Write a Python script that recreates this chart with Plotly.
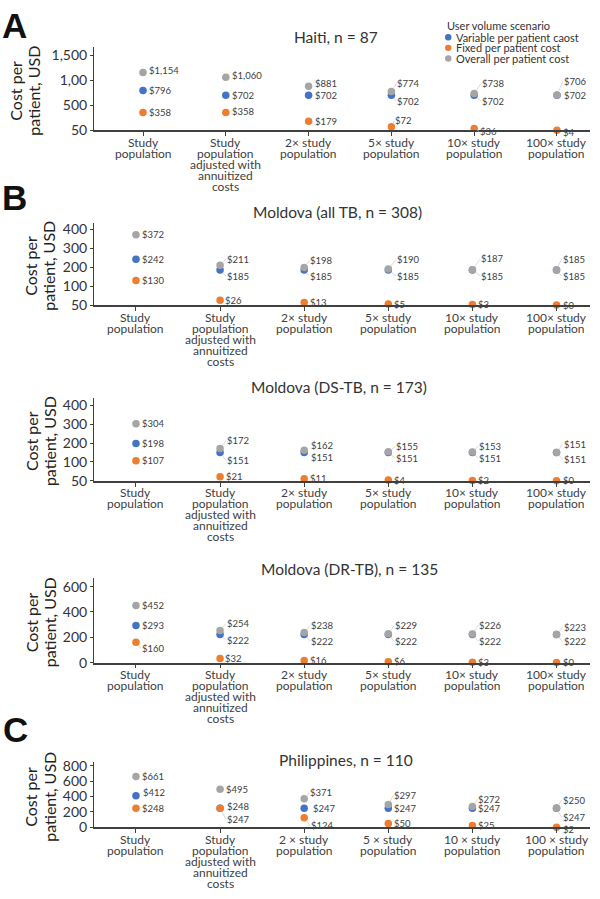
import plotly.graph_objects as go

W, H = 600, 899

# ---------------- data ----------------
series_names = ["Variable per patient caost", "Fixed per patient cost", "Overall per patient cost"]
legend_title = "User volume scenario"

categories_std = ["Study\npopulation", "Study\npopulation\nadjusted with\nannuitized\ncosts",
                  "2× study\npopulation", "5× study\npopulation", "10× study\npopulation", "100× study\npopulation"]
categories_ph = ["Study\npopulation", "Study\npopulation\nadjusted with\nannuitized\ncosts",
                 "2 × study\npopulation", "5 × study\npopulation", "10 × study\npopulation", "100 × study\npopulation"]

haiti_variable = [796, 702, 702, 702, 702, 702]
haiti_fixed = [358, 358, 179, 72, 36, 4]
haiti_overall = [1154, 1060, 881, 774, 738, 706]
haiti_ytick_vals = [0, 500, 1000, 1500]
haiti_ytick_text = ["50", "500", "1,00", "1,500"]

mold_all_variable = [242, 185, 185, 185, 185, 185]
mold_all_fixed = [130, 26, 13, 5, 3, 0]
mold_all_overall = [372, 211, 198, 190, 187, 185]

mold_ds_variable = [198, 151, 151, 151, 151, 151]
mold_ds_fixed = [107, 21, 11, 4, 2, 0]
mold_ds_overall = [304, 172, 162, 155, 153, 151]
mold_ytick_vals = [0, 100, 200, 300, 400]
mold_ytick_text = ["50", "100", "200", "300", "400"]

mold_dr_variable = [293, 222, 222, 222, 222, 222]
mold_dr_fixed = [160, 32, 16, 6, 3, 0]
mold_dr_overall = [452, 254, 238, 229, 226, 223]
mold_dr_ytick_vals = [0, 200, 400, 600]
mold_dr_ytick_text = ["0", "200", "400", "600"]

phil_variable = [412, 247, 247, 247, 247, 247]
phil_fixed = [248, 248, 124, 50, 25, 2]
phil_overall = [661, 495, 371, 297, 272, 250]
phil_ytick_vals = [0, 200, 400, 600, 800]
phil_ytick_text = ["0", "200", "400", "600", "800"]

titles = ["Haiti, n = 87", "Moldova (all TB, n = 308)", "Moldova (DS-TB, n = 173)",
          "Moldova (DR-TB), n = 135", "Philippines, n = 110"]
panel_letters = ["A", "B", "C"]
ytitle_lines = ["Cost per", "patient, USD"]

# ---------------- styling / layout config ----------------
colors = ["#4472C4", "#ED7D31", "#A5A5A5"]
FONT = "Lato"
TXT = "#404040"

# label offsets (dx px right, dy px down, leader line?) per series: variable, fixed, overall
off_haiti = [
    [(5, 0, 0), (5, 0, 0), (5, 0, 0), (5, 6, 1), (7, 6, 1), (6, 0, 0)],
    [(5, 0, 0), (5, -1, 0), (5, 0, 0), (3, -6, 1), (5, 3, 1), (5, 2, 0)],
    [(5, -2, 0), (5, -2, 0), (5, -3, 0), (5, -8, 1), (7, -10, 1), (6, -14, 1)],
]
off_all = [
    [(5, 0, 0), (6, 6, 1), (5, 6, 1), (8, 6, 1), (8, 6, 1), (5, 6, 1)],
    [(5, 0, 0), (4, 0, 0), (5, 0, 0), (5, 0, 0), (5, 0, 0), (5, 0, 0)],
    [(5, 0, 0), (6, -6, 1), (5, -7, 1), (8, -10, 1), (8, -11, 1), (5, -11, 1)],
]
off_ds = [
    [(5, 0, 0), (6, 8, 1), (6, 5, 0), (7, 6, 1), (6, 6, 1), (6, 7, 1)],
    [(5, 0, 0), (5, 0, 0), (5, 0, 0), (5, 0, 0), (5, 0, 0), (5, 0, 0)],
    [(5, 0, 0), (6, -8, 1), (6, -5, 0), (7, -5, 1), (6, -6, 1), (6, -8, 1)],
]
off_dr = [
    [(5, 0, 0), (6, 6, 1), (6, 7, 1), (6, 7, 1), (6, 7, 1), (6, 7, 1)],
    [(5, 6, 1), (4, 0, 0), (5, 0, 0), (5, 0, 0), (5, 0, 0), (5, 0, 0)],
    [(5, 0, 0), (6, -7, 1), (6, -7, 1), (6, -8, 1), (6, -9, 1), (6, -7, 1)],
]
off_ph = [
    [(6, -3, 0), (6, 11, 1), (8, 0, 0), (5, 0, 0), (5, 0, 0), (5, 9, 1)],
    [(5, 0, 0), (6, -2, 0), (6, 8, 1), (5, 0, 0), (5, 0, 0), (5, 2, 0)],
    [(5, 0, 0), (5, 0, 0), (5, -6, 1), (5, -9, 1), (5, -7, 1), (5, -8, 1)],
]

panels = [
    dict(cats=categories_std, series=[haiti_variable, haiti_fixed, haiti_overall],
         tv=haiti_ytick_vals, tt=haiti_ytick_text, top=41.7, bot=126.3, ymax=1664,
         xr=[-0.592, 5.399], title_xy=(336, 31.7), yt_x=(16, 34), off=off_haiti),
    dict(cats=categories_std, series=[mold_all_variable, mold_all_fixed, mold_all_overall],
         tv=mold_ytick_vals, tt=mold_ytick_text, top=220, bot=303.8, ymax=436,
         xr=[-0.499, 5.398], title_xy=(337, 209), yt_x=(31, 49), off=off_all),
    dict(cats=categories_std, series=[mold_ds_variable, mold_ds_fixed, mold_ds_overall],
         tv=mold_ytick_vals, tt=mold_ytick_text, top=397.7, bot=482.3, ymax=443,
         xr=[-0.499, 5.398], title_xy=(339, 387.3), yt_x=(31, 49), off=off_ds),
    dict(cats=categories_std, series=[mold_dr_variable, mold_dr_fixed, mold_dr_overall],
         tv=mold_dr_ytick_vals, tt=mold_dr_ytick_text, top=581, bot=667, ymax=669,
         xr=[-0.499, 5.398], title_xy=(349, 572.3), yt_x=(31, 49), off=off_dr),
    dict(cats=categories_ph, series=[phil_variable, phil_fixed, phil_overall],
         tv=phil_ytick_vals, tt=phil_ytick_text, top=768.3, bot=834.3, ymax=846,
         xr=[-0.499, 5.398], title_xy=(345.5, 765.7), yt_x=(31, 50), off=off_ph),
]
letter_pos = [(14, 20), (14, 195), (15, 734.5)]

fig = go.Figure()
annotations = []
shapes = []
layout = {}


def px(x):
    return x / W


def py(y):
    return 1 - y / H


for i, p in enumerate(panels):
    n = "" if i == 0 else str(i + 1)
    xa, ya = "x" + n, "y" + n
    keys = [c.replace("\n", " ") for c in p["cats"]]
    for s, (vals, name, col) in enumerate(zip(p["series"], series_names, colors)):
        fig.add_trace(go.Scatter(
            x=keys, y=vals, mode="markers", name=name, xaxis=xa, yaxis=ya,
            marker=dict(color=col, size=7.5, line=dict(width=0)),
            cliponaxis=False, showlegend=False))
        for j, (k, v) in enumerate(zip(keys, vals)):
            dx, dy, lead = p["off"][s][j]
            txt = "${:,}".format(v)
            base = dict(x=k, y=v, xref=xa, yref=ya, text=txt, xanchor="left", yanchor="middle",
                        font=dict(family=FONT, size=9.5, color=TXT))
            if lead:
                base.update(showarrow=True, arrowhead=0, arrowwidth=0.7, arrowcolor="#C8C8C8",
                            ax=dx, ay=dy, standoff=3.5, borderpad=0)
            else:
                base.update(showarrow=False, xshift=dx, yshift=-dy, borderpad=0)
            annotations.append(base)
    # category labels, line by line
    for j, (k, c) in enumerate(zip(keys, p["cats"])):
        for li, line in enumerate(c.split("\n")):
            annotations.append(dict(x=k, y=0, xref=xa, yref=ya, text=line, showarrow=False,
                                    xanchor="center", yanchor="middle", yshift=-(12 + 11 * li),
                                    font=dict(family=FONT, size=12, color=TXT)))
    layout["xaxis" + n] = dict(domain=[px(94), px(590)], anchor=ya, type="category",
                               categoryorder="array", categoryarray=keys, range=p["xr"],
                               showticklabels=False, ticks="outside", ticklen=4, tickcolor="#404040",
                               showline=True, linecolor="#404040", linewidth=1.5,
                               showgrid=False, zeroline=False, fixedrange=True)
    layout["yaxis" + n] = dict(domain=[py(p["bot"]), py(p["top"])], anchor=xa,
                               range=[0, p["ymax"]], tickvals=p["tv"], ticktext=p["tt"],
                               ticks="outside", ticklen=3, tickcolor="#404040",
                               tickfont=dict(family=FONT, size=14, color="#333333"),
                               showline=True, linecolor="#404040", linewidth=1,
                               showgrid=False, zeroline=False, fixedrange=True)
    # panel title
    tx, ty = p["title_xy"]
    annotations.append(dict(x=px(tx), y=py(ty), xref="paper", yref="paper", text=titles[i],
                            showarrow=False, xanchor="center", yanchor="middle",
                            font=dict(family=FONT, size=15.5, color="#333333")))
    # y-axis title (two lines)
    yc = (p["top"] + p["bot"]) / 2 + 2
    for li, line in enumerate(ytitle_lines):
        annotations.append(dict(x=px(p["yt_x"][li]), y=py(yc), xref="paper", yref="paper",
                                text=line, showarrow=False, textangle=-90,
                                xanchor="center", yanchor="middle",
                                font=dict(family=FONT, size=16, color="#222222")))

# panel letters
for L, (lx, ly) in zip(panel_letters, letter_pos):
    annotations.append(dict(x=px(lx), y=py(ly), xref="paper", yref="paper", text="<b>%s</b>" % L,
                            showarrow=False, xanchor="center", yanchor="middle",
                            font=dict(family="Liberation Sans", size=35, color="#111111")))

# custom legend
annotations.append(dict(x=px(445), y=py(20), xref="paper", yref="paper", text=legend_title,
                        showarrow=False, xanchor="left", yanchor="middle",
                        font=dict(family=FONT, size=11, color="#333333")))
for k, (name, col) in enumerate(zip(series_names, colors)):
    yy = 31.7 + 10.8 * k
    shapes.append(dict(type="circle", xref="paper", yref="paper",
                       x0=px(445), x1=px(451.5), y0=py(yy + 3.25), y1=py(yy - 3.25),
                       fillcolor=col, line=dict(width=0)))
    annotations.append(dict(x=px(454), y=py(yy), xref="paper", yref="paper", text=name,
                            showarrow=False, xanchor="left", yanchor="middle",
                            font=dict(family=FONT, size=11, color="#333333")))

fig.update_layout(width=W, height=H, margin=dict(l=0, r=0, t=0, b=0),
                  paper_bgcolor="white", plot_bgcolor="white",
                  annotations=annotations, shapes=shapes, showlegend=False,
                  font=dict(family=FONT), **layout)

fig.write_html("out.html", config={"displayModeBar": False},
               post_script="document.body.style.margin='0';document.body.style.overflow='hidden';")
